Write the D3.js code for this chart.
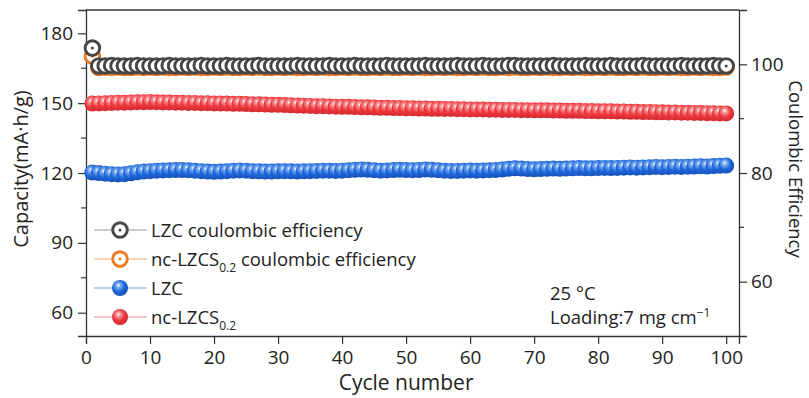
<!DOCTYPE html>
<html>
<head>
<meta charset="utf-8">
<script src="https://cdn.jsdelivr.net/npm/d3@7/dist/d3.min.js"></script>
<style>
  body { margin: 0; background: #fff; }
  text { font-family: "Open Sans", sans-serif; fill: #222; }
</style>
</head>
<body>
<svg id="chart" width="809" height="398"></svg>
<script>
// cycle numbers on the x axis
const cycles = d3.range(1, 101);

// coulombic efficiency (%), right axis
const lzcCE = [
  103.0, 99.7, 99.7, 99.8, 99.7, 99.7, 99.7, 99.8, 99.7, 99.7,
  99.7, 99.7, 99.8, 99.7, 99.7, 99.7, 99.7, 99.8, 99.7, 99.7,
  99.7, 99.8, 99.7, 99.7, 99.7, 99.7, 99.8, 99.7, 99.7, 99.7,
  99.7, 99.7, 99.8, 99.7, 99.7, 99.7, 99.7, 99.8, 99.7, 99.7,
  99.7, 99.8, 99.7, 99.7, 99.7, 99.7, 99.8, 99.7, 99.7, 99.7,
  99.7, 99.7, 99.8, 99.7, 99.7, 99.7, 99.7, 99.8, 99.7, 99.7,
  99.7, 99.8, 99.7, 99.7, 99.7, 99.8, 99.8, 99.7, 99.7, 99.7,
  99.7, 99.7, 99.8, 99.7, 99.7, 99.7, 99.7, 99.8, 99.7, 99.7,
  99.7, 99.8, 99.7, 99.7, 99.7, 99.7, 99.8, 99.7, 99.7, 99.7,
  99.7, 99.7, 99.8, 99.7, 99.7, 99.7, 99.7, 99.8, 99.7, 99.7
];
const ncCE = [
  101.5, 99.4, 99.5, 99.4, 99.5, 99.4, 99.4, 99.5, 99.4, 99.5,
  99.4, 99.5, 99.4, 99.4, 99.5, 99.4, 99.5, 99.4, 99.4, 99.5,
  99.4, 99.5, 99.4, 99.4, 99.5, 99.4, 99.5, 99.4, 99.4, 99.5,
  99.4, 99.5, 99.4, 99.4, 99.5, 99.4, 99.5, 99.4, 99.4, 99.5,
  99.4, 99.5, 99.4, 99.4, 99.5, 99.4, 99.5, 99.4, 99.4, 99.5,
  99.4, 99.5, 99.4, 99.4, 99.5, 99.4, 99.5, 99.4, 99.4, 99.5,
  99.4, 99.5, 99.4, 99.4, 99.5, 99.4, 99.5, 99.4, 99.4, 99.5,
  99.4, 99.5, 99.4, 99.4, 99.5, 99.4, 99.5, 99.4, 99.4, 99.5,
  99.4, 99.5, 99.4, 99.4, 99.5, 99.4, 99.5, 99.4, 99.4, 99.5,
  99.4, 99.5, 99.4, 99.4, 99.5, 99.4, 99.5, 99.4, 99.4, 99.5
];

// discharge capacity (mA h/g), left axis
const lzcCap = [
  120.2, 120.0, 119.7, 119.5, 119.4, 119.5, 119.9, 120.3, 120.6, 120.8,
  121.0, 121.1, 121.2, 121.3, 121.3, 121.2, 121.0, 120.8, 120.6, 120.5,
  120.6, 120.8, 121.0, 121.1, 121.0, 120.8, 120.7, 120.6, 120.6, 120.7,
  120.8, 120.7, 120.6, 120.7, 120.8, 120.9, 121.0, 121.0, 120.9, 121.0,
  121.2, 121.4, 121.5, 121.4, 121.2, 121.0, 121.1, 121.3, 121.4, 121.3,
  121.2, 121.3, 121.5, 121.4, 121.2, 121.0, 120.9, 120.9, 121.0, 121.1,
  121.0, 121.1, 121.2, 121.3, 121.5, 121.8, 122.0, 121.9, 121.7, 121.6,
  121.7, 121.8, 121.9, 121.8, 121.9, 122.0, 122.1, 122.0, 122.0, 122.1,
  122.2, 122.1, 122.2, 122.3, 122.4, 122.3, 122.4, 122.5, 122.6, 122.5,
  122.6, 122.7, 122.6, 122.7, 122.8, 122.9, 122.8, 123.0, 123.1, 123.2
];
const ncCap = [
  149.8, 149.9, 150.0, 150.1, 150.2, 150.2, 150.3, 150.4, 150.4, 150.5,
  150.4, 150.3, 150.3, 150.2, 150.2, 150.1, 150.1, 150.0, 150.0, 149.9,
  149.9, 149.8, 149.7, 149.7, 149.6, 149.5, 149.5, 149.4, 149.3, 149.3,
  149.2, 149.1, 149.0, 148.9, 148.8, 148.7, 148.7, 148.6, 148.5, 148.4,
  148.4, 148.3, 148.2, 148.2, 148.1, 148.0, 148.0, 147.9, 147.9, 147.8,
  147.8, 147.7, 147.7, 147.6, 147.6, 147.5, 147.5, 147.4, 147.4, 147.3,
  147.3, 147.3, 147.2, 147.2, 147.1, 147.1, 147.1, 147.0, 147.0, 146.9,
  146.9, 146.9, 146.8, 146.8, 146.7, 146.7, 146.7, 146.6, 146.6, 146.5,
  146.5, 146.5, 146.4, 146.4, 146.3, 146.3, 146.2, 146.2, 146.1, 146.1,
  146.0, 146.0, 145.9, 145.9, 145.8, 145.8, 145.7, 145.7, 145.6, 145.6
];

const xTicks = [0, 10, 20, 30, 40, 50, 60, 70, 80, 90, 100];
const leftTicks = [60, 90, 120, 150, 180];
const leftMinor = [75, 105, 135, 165];
const rightTicks = [60, 80, 100];
const rightMinor = [70, 90];

var svg = d3.select("#chart"),
    width = +svg.attr("width"),
    height = +svg.attr("height"),
    margin = {top: 10, right: 70, bottom: 62, left: 86};

var x = d3.scaleLinear().domain([0, 102]).range([margin.left, width - margin.right]);
var yL = d3.scaleLinear().domain([50, 190]).range([height - margin.bottom, margin.top]);
var yR = d3.scaleLinear().domain([50, 110]).range([height - margin.bottom, margin.top]);
var midY = (margin.top + height - margin.bottom) / 2 - 4;

// sphere gradients
var defs = svg.append("defs");
function sphere(id, light, base, dark) {
  var g = defs.append("radialGradient").attr("id", id)
      .attr("cx", "42%").attr("cy", "40%").attr("r", "60%")
      .attr("fx", "40%").attr("fy", "32%");
  g.append("stop").attr("offset", "0%").attr("stop-color", "#ffffff");
  g.append("stop").attr("offset", "22%").attr("stop-color", light);
  g.append("stop").attr("offset", "60%").attr("stop-color", base);
  g.append("stop").attr("offset", "100%").attr("stop-color", dark);
}
sphere("gBlue", "#7fb0f0", "#1f68dc", "#1550b8");
sphere("gRed", "#f69a9c", "#ee383e", "#d0282e");

var axisColor = "#333";

// axes
var gx = svg.append("g").attr("transform", "translate(0," + (height - margin.bottom) + ")")
    .call(d3.axisBottom(x).tickValues(xTicks).tickSize(8).tickPadding(7));
var gl = svg.append("g").attr("transform", "translate(" + margin.left + ",0)")
    .call(d3.axisLeft(yL).tickValues(leftTicks).tickSize(8).tickPadding(5));
var gr = svg.append("g").attr("transform", "translate(" + (width - margin.right) + ",0)")
    .call(d3.axisRight(yR).tickValues(rightTicks).tickSize(8).tickPadding(4));
[gx, gl, gr].forEach(function(g) {
  g.selectAll(".domain").attr("stroke", axisColor).attr("stroke-width", 1.3);
  g.selectAll(".tick line").attr("stroke", axisColor).attr("stroke-width", 1.2);
  g.selectAll(".tick text").style("font-size", "19px").attr("fill", "#222");
});
gl.selectAll(".minor").data(leftMinor).enter().append("line")
    .attr("x1", 0).attr("x2", -5).attr("y1", d => yL(d)).attr("y2", d => yL(d))
    .attr("stroke", axisColor).attr("stroke-width", 1.2);
gr.selectAll(".minor").data(rightMinor).enter().append("line")
    .attr("x1", 0).attr("x2", 5).attr("y1", d => yR(d)).attr("y2", d => yR(d))
    .attr("stroke", axisColor).attr("stroke-width", 1.2);
svg.append("line")
    .attr("x1", margin.left).attr("x2", width - margin.right)
    .attr("y1", margin.top).attr("y2", margin.top)
    .attr("stroke", axisColor).attr("stroke-width", 1.3);

// axis titles
svg.append("text")
    .attr("transform", "translate(" + 28 + "," + midY + ") rotate(-90)")
    .attr("text-anchor", "middle").style("font-size", "20px")
    .text("Capacity(mA·h/g)");
svg.append("text")
    .attr("transform", "translate(" + 789 + "," + midY + ") rotate(90)")
    .attr("text-anchor", "middle").style("font-size", "18.5px")
    .text("Coulombic Efficiency");
svg.append("text")
    .attr("x", x(50)).attr("y", 390)
    .attr("text-anchor", "middle").style("font-size", "21px")
    .text("Cycle number");

// data markers
function openSeries(vals, color) {
  var g = svg.append("g");
  var m = g.selectAll("g").data(vals).enter().append("g")
      .attr("transform", (d, i) => "translate(" + x(cycles[i]) + "," + yR(d) + ")");
  m.append("circle").attr("r", 7.3).attr("fill", "#fff")
      .attr("stroke", color).attr("stroke-width", 2.9);
  m.append("circle").attr("r", 1.5).attr("fill", color);
}
function ballSeries(vals, grad) {
  svg.append("g").selectAll("circle").data(vals).enter().append("circle")
      .attr("cx", (d, i) => x(cycles[i]))
      .attr("cy", d => yL(d))
      .attr("r", 8)
      .attr("fill", "url(#" + grad + ")");
}
ballSeries(lzcCap, "gBlue");
ballSeries(ncCap, "gRed");
openSeries(ncCE, "#ef7a26");
openSeries(lzcCE, "#464646");

// legend
var legend = [
  {label: "LZC coulombic efficiency", sub: null, line: "#9a9a9a", type: "open", color: "#464646"},
  {label: "nc-LZCS", sub: "0.2", rest: " coulombic efficiency", line: "#f3a870", type: "open", color: "#ef7a26"},
  {label: "LZC", sub: null, line: "#7ea6e0", type: "ball", grad: "gBlue"},
  {label: "nc-LZCS", sub: "0.2", line: "#ee8a8e", type: "ball", grad: "gRed"}
];
var lg = svg.append("g").selectAll("g").data(legend).enter().append("g")
    .attr("transform", (d, i) => "translate(0," + (230 + i * 29) + ")");
lg.append("line").attr("x1", 94).attr("x2", 147).attr("y1", 0).attr("y2", 0)
    .attr("stroke", d => d.line).attr("stroke-width", 1.2);
lg.each(function(d) {
  var g = d3.select(this);
  if (d.type === "open") {
    g.append("circle").attr("cx", 120).attr("r", 7.3).attr("fill", "#fff")
        .attr("stroke", d.color).attr("stroke-width", 2.9);
    g.append("circle").attr("cx", 120).attr("r", 1.5).attr("fill", d.color);
  } else {
    g.append("circle").attr("cx", 120).attr("r", 8).attr("fill", "url(#" + d.grad + ")");
  }
  var t = g.append("text").attr("x", 151).attr("y", 6.5).style("font-size", "18.5px");
  t.append("tspan").text(d.label);
  if (d.sub) {
    t.append("tspan").attr("dy", 6).style("font-size", "12px").text(d.sub);
    if (d.rest) t.append("tspan").attr("dy", -6).text(d.rest);
  }
});

// conditions note
svg.append("text").attr("x", 550).attr("y", 300).style("font-size", "18.5px").text("25 °C");
var note = svg.append("text").attr("x", 550).attr("y", 324).style("font-size", "18.5px");
note.append("tspan").text("Loading:7 mg cm");
note.append("tspan").attr("dy", -7).style("font-size", "12px").text("−1");
</script>
</body>
</html>
